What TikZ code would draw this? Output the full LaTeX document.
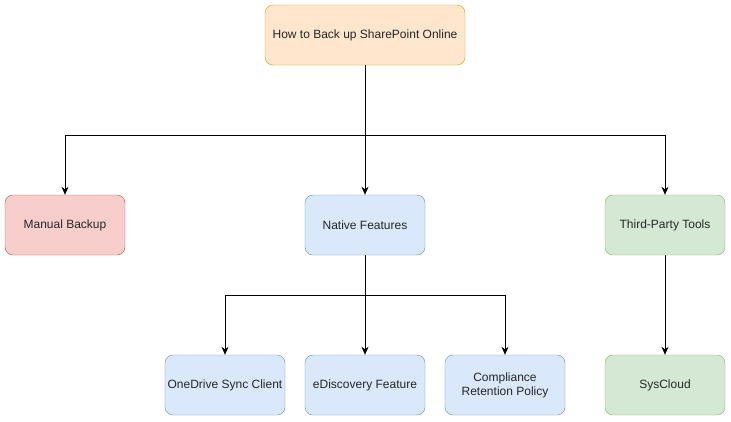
\documentclass[tikz,border=0pt]{standalone}
\usepackage{fontspec}
\setmainfont{Liberation Sans}
\usetikzlibrary{positioning}
\usetikzlibrary{arrows.meta}
\definecolor{orfill}{HTML}{FFE6CC}
\definecolor{ordraw}{HTML}{D79B00}
\definecolor{rdfill}{HTML}{F8CECC}
\definecolor{rddraw}{HTML}{B85450}
\definecolor{blfill}{HTML}{DAE8FC}
\definecolor{bldraw}{HTML}{6C8EBF}
\definecolor{grfill}{HTML}{D5E8D4}
\definecolor{grdraw}{HTML}{82B366}
\tikzset{box/.style = {draw, rounded corners=8pt, minimum width=120pt,
                       minimum height=60pt, inner sep=2pt, align=center,
                       font=\fontsize{12}{14}\selectfont, text=black!85}}
\tikzset{orbox/.style = {box, fill=orfill, draw=ordraw, minimum width=200pt}}
\tikzset{rdbox/.style = {box, fill=rdfill, draw=rddraw}}
\tikzset{blbox/.style = {box, fill=blfill, draw=bldraw}}
\tikzset{grbox/.style = {box, fill=grfill, draw=grdraw}}
\tikzset{link/.style = {-{Stealth[length=8pt,width=7pt,inset=2.5pt]}, line width=1pt}}

\begin{document}
\begin{tikzpicture}[x=1pt,y=-1pt]
          \useasboundingbox (0,0) rectangle (731,421);
          \node[orbox] (root) at (365,35) {How to Back up SharePoint Online};
          \node[rdbox] (manual) at (65,225) {Manual Backup};
          \node[blbox] (native) at (365,225) {Native Features};
          \node[grbox] (third) at (665,225) {Third-Party Tools};
          \node[blbox] (onedrive) at (225,385) {OneDrive Sync Client};
          \node[blbox] (ediscovery) at (365,385) {eDiscovery Feature};
          \node[blbox] (compliance) at (505,385) {Compliance\\Retention Policy};
          \node[grbox] (syscloud) at (665,385) {SysCloud};
          \coordinate (bendL) at (65,135);
          \coordinate (bendR) at (665,135);
          \coordinate (bendA) at (225,295);
          \coordinate (bendB) at (505,295);
          \draw[link] (root.south) |- (bendL) -- (manual.north);
          \draw[link] (root.south) -- (native.north);
          \draw[link] (root.south) |- (bendR) -- (third.north);
          \draw[link] (native.south) |- (bendA) -- (onedrive.north);
          \draw[link] (native.south) -- (ediscovery.north);
          \draw[link] (native.south) |- (bendB) -- (compliance.north);
          \draw[link] (third.south) -- (syscloud.north);
        \end{tikzpicture}
\end{document}
